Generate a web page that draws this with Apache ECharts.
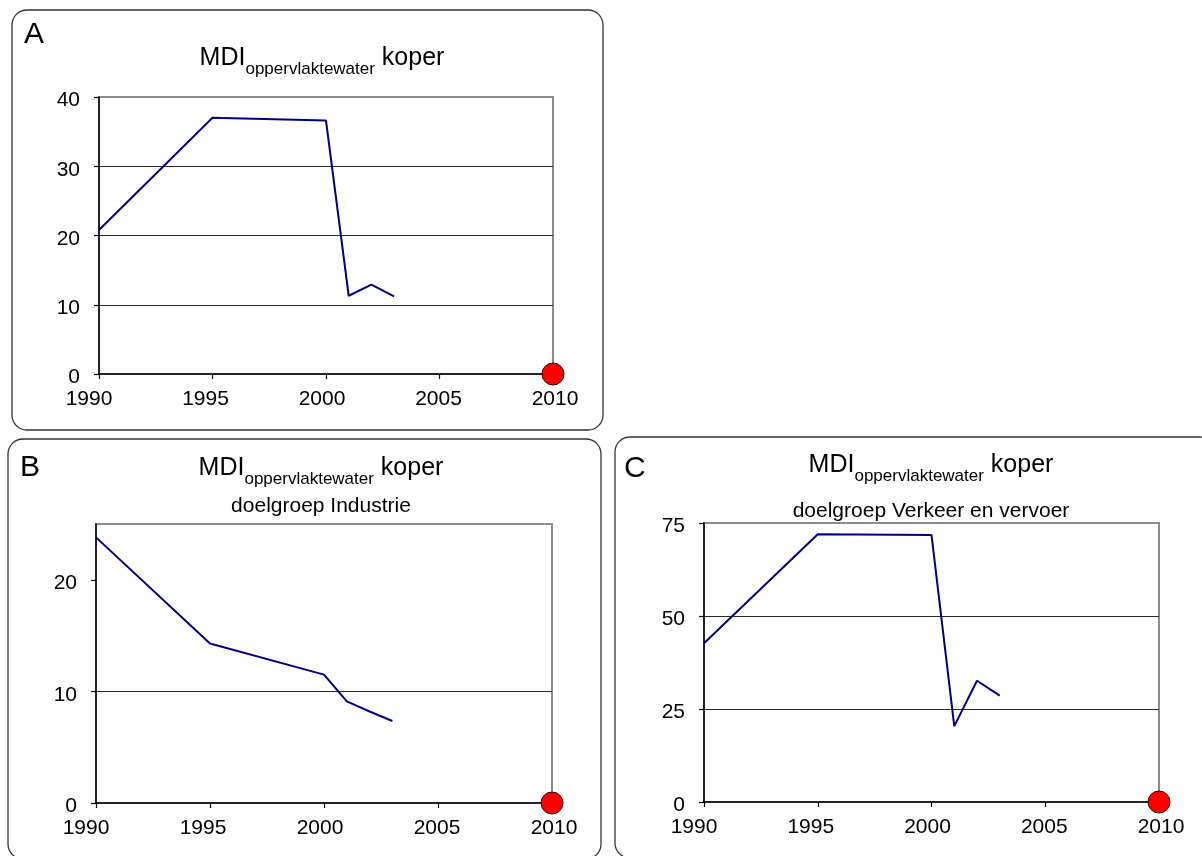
<!DOCTYPE html>
<html><head><meta charset="utf-8">
<script src="https://cdn.jsdelivr.net/npm/echarts@6/dist/echarts.min.js"></script>
<style>html,body{margin:0;padding:0;background:#fff}#c{width:1202px;height:856px}</style>
</head><body><div id="c"></div>
<script>
// ---- data ----
const years = [1990, 1995, 2000, 2001, 2002, 2003];
const valuesA = [20.8, 37.0, 36.6, 11.3, 12.9, 11.2];
const valuesB = [23.8, 14.3, 11.5, 9.1, 8.2, 7.35];
const valuesC = [42.7, 72.0, 71.8, 20.4, 32.6, 28.6];
const targetPoint = [2010, 0];
const xMin = 1990, xMax = 2010, xStep = 5;
const yMaxes = [40, 25, 75];
const ySteps = [10, 10, 25];
const panelLetters = ['A', 'B', 'C'];
const titleMain = 'MDI';
const titleSub = 'oppervlaktewater';
const titleTail = ' koper';
const subtitles = ['', 'doelgroep Industrie', 'doelgroep Verkeer en vervoer'];

// ---- layout / style ----
const FONT = '"Liberation Sans", Arial, sans-serif';
const grids = [
  {left: 99, top: 97, width: 454, height: 277},
  {left: 96, top: 524, width: 456, height: 279},
  {left: 704, top: 523, width: 455, height: 279}
];
const panels = [
  {x: 12, y: 10, w: 591, h: 420},
  {x: 8, y: 439, w: 593, h: 420},
  {x: 615, y: 437, w: 600, h: 421}
];
const titlePos = [
  {cx: 322, top: 52, letterX: 24, letterY: 50},
  {cx: 321, top: 462, letterX: 20, letterY: 483},
  {cx: 931, top: 459, letterX: 624, letterY: 484}
];
const subY = [0, 517, 522];
// horizontal nudge of x tick labels (px), reference labels are spread slightly wider than ticks
const xLabelShift = {1990: -10, 1995: -7, 2000: -4, 2005: -1, 2010: 2};
const seriesValues = [valuesA, valuesB, valuesC];

const xRich = {};
Object.keys(xLabelShift).forEach(k => {
  const d = xLabelShift[k];
  xRich['t' + k] = {
    fontSize: 21, fontFamily: FONT, color: '#000',
    padding: [0, d < 0 ? -2 * d : 0, 0, d > 0 ? 2 * d : 0]
  };
});

const option = {
  animation: false,
  backgroundColor: '#fff',
  grid: grids.map(g => Object.assign({
    show: true, borderColor: '#8c8c8c', borderWidth: 2,
    backgroundColor: 'transparent', containLabel: false, outerBoundsMode: 'none'
  }, g)),
  xAxis: grids.map((g, i) => ({
    type: 'value', gridIndex: i, min: xMin, max: xMax, interval: xStep,
    axisLine: {show: true, onZero: false, lineStyle: {color: '#000', width: 1.5}},
    axisTick: {show: true, length: 5, lineStyle: {color: '#000', width: 1.2}},
    axisLabel: {color: '#000', fontSize: 21, fontFamily: FONT, margin: 15,
      formatter: v => (xLabelShift[v] !== undefined ? '{t' + v + '|' + v + '}' : String(v)),
      rich: xRich},
    splitLine: {show: false}
  })),
  yAxis: grids.map((g, i) => {
    const ax = {
      type: 'value', gridIndex: i, min: 0, max: yMaxes[i], interval: ySteps[i],
      axisLine: {show: true, onZero: false, lineStyle: {color: '#000', width: 1.5}},
      axisTick: {show: true, length: 5, lineStyle: {color: '#000', width: 1.2}},
      axisLabel: {color: '#000', fontSize: 21, fontFamily: FONT, margin: 19,
        formatter: v => '{v|' + v + '}',
        rich: {v: {fontSize: 21, fontFamily: FONT, color: '#000', padding: [7, 0, 0, 0]}}},
      splitLine: {show: true, showMinLine: false, showMaxLine: false, lineStyle: {color: '#2a2a2a', width: 1}}
    };
    if (yMaxes[i] % ySteps[i] !== 0) {
      ax.axisLabel.showMaxLabel = false;
      const vals = [];
      for (let v = 0; v < yMaxes[i]; v += ySteps[i]) vals.push(v);
      ax.axisTick.customValues = vals;
    }
    return ax;
  }),
  series: [],
  graphic: []
};

seriesValues.forEach((vals, i) => {
  option.series.push({
    type: 'line', xAxisIndex: i, yAxisIndex: i, silent: true,
    data: years.map((y, k) => [y, vals[k]]),
    symbol: 'none', lineStyle: {color: '#000080', width: 2}, z: 3
  });
  option.series.push({
    type: 'scatter', xAxisIndex: i, yAxisIndex: i, silent: true, clip: false,
    data: [targetPoint], symbolSize: 22,
    itemStyle: {color: '#ff0000', borderColor: '#3a0000', borderWidth: 1, opacity: 1}, z: 5
  });
});

panels.forEach(p => {
  option.graphic.push({
    type: 'rect', silent: true, z: 0,
    shape: {x: p.x, y: p.y, width: p.w, height: p.h, r: 15},
    style: {fill: 'none', stroke: '#333', lineWidth: 1.3}
  });
});

titlePos.forEach((t, i) => {
  option.graphic.push({
    type: 'text', silent: true, z: 10, x: t.cx, y: t.top,
    style: {
      text: '{m|' + titleMain + '}{s|' + titleSub + '}{m|' + titleTail + '}',
      align: 'center', verticalAlign: 'top', fill: '#000',
      rich: {
        m: {fontSize: 25, fontFamily: FONT, lineHeight: 26, padding: [0, 0, 7, 0], verticalAlign: 'bottom', fill: '#000'},
        s: {fontSize: 17, fontFamily: FONT, lineHeight: 18, verticalAlign: 'bottom', fill: '#000'}
      }
    }
  });
  option.graphic.push({
    type: 'text', silent: true, z: 10, x: t.letterX, y: t.letterY,
    style: {text: panelLetters[i], font: '30px ' + FONT, fill: '#000', align: 'left', verticalAlign: 'bottom', lineHeight: 30}
  });
  if (subtitles[i]) {
    option.graphic.push({
      type: 'text', silent: true, z: 10, x: t.cx, y: subY[i],
      style: {text: subtitles[i], font: '21px ' + FONT, fill: '#000', align: 'center', verticalAlign: 'bottom', lineHeight: 21}
    });
  }
});

const chart = echarts.init(document.getElementById('c'), null, {renderer: 'canvas'});
chart.setOption(option);
</script>
</body></html>
